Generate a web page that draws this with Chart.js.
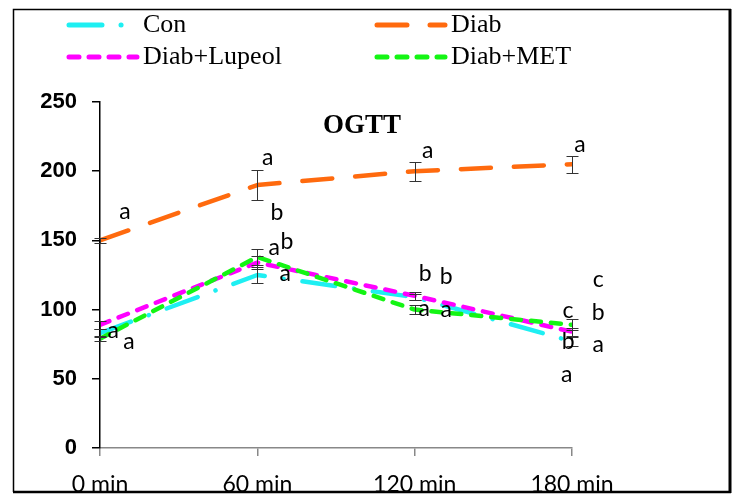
<!DOCTYPE html>
<html>
<head>
<meta charset="utf-8">
<script src="https://cdn.jsdelivr.net/npm/chart.js@4.4.1/dist/chart.umd.min.js"></script>
<style>
  body { margin: 0; background: #fff; }
  canvas { display: block; }
</style>
</head>
<body>
<canvas id="myChart" width="735" height="494"></canvas>
<script>
// Datos del gráfico
const minutos = [0, 60, 120, 180];
const etiquetasX = ['0 min', '60 min', '120 min', '180 min'];
const series = ['Con', 'Diab', 'Diab+Lupeol', 'Diab+MET'];
const con = [83, 125, 109, 77];
const diab = [150, 190, 200, 205];
const lupeol = [89, 134, 110, 84];
const met = [79, 138, 100, 89];
const errCon = [3, 6, 2, 3];
const errDiab = [2, 11, 7, 6];
const errLupeol = [3, 5, 3, 3];
const errMet = [2, 6, 3, 4];

// Letras de significancia (minuto, valor, texto)
const letrasMin = [9.5, 5, 11, 64, 67.5, 66.4, 71.3, 70.6, 125, 124, 132, 123.6, 132, 183, 178.5, 178.5, 178, 190, 190, 190];
const letrasVal = [171, 85, 77, 210, 170, 145, 149.5, 125.7, 215, 125.7, 123.5, 101, 99.7, 219, 99, 76.6, 52.7, 122, 98, 74.4];
const letrasTxt = ['a', 'a', 'a', 'a', 'b', 'a', 'b', 'a', 'a', 'b', 'b', 'a', 'a', 'a', 'c', 'b', 'a', 'c', 'b', 'a'];

const valores = [con, diab, lupeol, met];
const errores = [errCon, errDiab, errLupeol, errMet];
const colores = ['#1EEFF2', '#FF6A0E', '#FF00FF', '#14F514'];
const trazos = [[33, 19, 0.1, 19], [30, 23], [10, 10], [10, 10]];

function puntos(arr) {
  return minutos.map((m, i) => ({ x: m, y: arr[i] }));
}

// Barras de error
const pluginErrores = {
  id: 'errores',
  afterDatasetsDraw(chart) {
    const ctx = chart.ctx;
    const xs = chart.scales.x, ys = chart.scales.y;
    ctx.save();
    ctx.strokeStyle = '#333';
    ctx.lineWidth = 1;
    errores.forEach((err, s) => {
      err.forEach((e, i) => {
        const x = Math.round(xs.getPixelForValue(minutos[i])) + 0.5;
        const y1 = Math.round(ys.getPixelForValue(valores[s][i] + e)) + 0.5;
        const y2 = Math.round(ys.getPixelForValue(valores[s][i] - e)) + 0.5;
        ctx.beginPath();
        ctx.moveTo(x, y1); ctx.lineTo(x, y2);
        ctx.moveTo(x - 6, y1); ctx.lineTo(x + 6, y1);
        ctx.moveTo(x - 6, y2); ctx.lineTo(x + 6, y2);
        ctx.stroke();
      });
    });
    // letras
    ctx.fillStyle = '#000';
    ctx.font = '23px Lato, "Open Sans", sans-serif';
    ctx.textAlign = 'center';
    ctx.textBaseline = 'middle';
    letrasTxt.forEach((t, i) => {
      ctx.fillText(t, xs.getPixelForValue(letrasMin[i]), ys.getPixelForValue(letrasVal[i]));
    });
    ctx.restore();
  }
};

// Leyenda, título y marco
const pluginMarco = {
  id: 'marco',
  afterDraw(chart) {
    const ctx = chart.ctx;
    ctx.save();
    // título
    ctx.fillStyle = '#000';
    ctx.font = 'bold 27px "Liberation Serif", serif';
    ctx.textAlign = 'center';
    ctx.textBaseline = 'middle';
    ctx.fillText('OGTT', 362, 126);

    // leyenda
    const pos = [[67, 25], [375, 25], [67, 57], [375, 57]];
    chart.data.datasets.forEach((ds, i) => {
      const [x, y] = pos[i];
      ctx.strokeStyle = ds.borderColor;
      ctx.lineWidth = 5;
      ctx.lineCap = 'round';
      ctx.setLineDash(ds.borderDash);
      ctx.beginPath();
      ctx.moveTo(x + 2, y);
      ctx.lineTo(x + 70, y);
      ctx.stroke();
      ctx.setLineDash([]);
      ctx.fillStyle = '#000';
      ctx.font = '26px "Liberation Serif", serif';
      ctx.textAlign = 'left';
      ctx.fillText(ds.label, x + 76, y);
    });

    // marco exterior
    ctx.strokeStyle = '#000';
    ctx.lineCap = 'butt';
    ctx.lineWidth = 1.5;
    ctx.beginPath();
    ctx.moveTo(13.5, 492); ctx.lineTo(13.5, 9.5); ctx.lineTo(731, 9.5);
    ctx.stroke();
    ctx.lineWidth = 3;
    ctx.beginPath();
    ctx.moveTo(730, 9); ctx.lineTo(730, 493);
    ctx.stroke();
    ctx.lineWidth = 2.5;
    ctx.beginPath();
    ctx.moveTo(13, 492); ctx.lineTo(731, 492);
    ctx.stroke();
    ctx.restore();
  }
};

const ctx = document.getElementById('myChart').getContext('2d');
const chart = new Chart(ctx, {
  type: 'line',
  data: {
    datasets: series.map((nombre, i) => ({
      label: nombre,
      data: puntos(valores[i]),
      borderColor: colores[i],
      borderWidth: 4.5,
      borderDash: trazos[i],
      borderCapStyle: 'round',
      borderJoinStyle: 'round',
      pointRadius: 0,
      tension: 0,
      fill: false,
      order: 4 - i
    }))
  },
  options: {
    responsive: false,
    animation: false,
    devicePixelRatio: 1,
    layout: { padding: { left: 0, top: 102, right: 163, bottom: 0 } },
    plugins: {
      legend: { display: false },
      tooltip: { enabled: false }
    },
    scales: {
      x: {
        type: 'linear',
        min: 0,
        max: 180,
        afterFit: s => { s.height = 46; },
        ticks: {
          stepSize: 60,
          autoSkip: false,
          maxRotation: 0,
          padding: 15,
          color: '#000',
          font: { family: 'Lato, "Open Sans", sans-serif', size: 23 },
          callback: v => etiquetasX[minutos.indexOf(v)]
        },
        grid: { drawOnChartArea: false, tickLength: 8, color: '#888', lineWidth: 1.5 },
        border: { color: '#888', width: 1.5 }
      },
      y: {
        min: 0,
        max: 250,
        afterFit: s => { s.width = 100; },
        ticks: {
          stepSize: 50,
          padding: 15,
          color: '#000',
          font: { family: '"Liberation Sans", Arial, sans-serif', size: 22, weight: 'bold' }
        },
        grid: { drawOnChartArea: false, tickLength: 8, color: '#000', lineWidth: 1.5 },
        border: { color: '#000', width: 1.5 }
      }
    }
  },
  plugins: [pluginErrores, pluginMarco]
});
</script>
</body>
</html>
